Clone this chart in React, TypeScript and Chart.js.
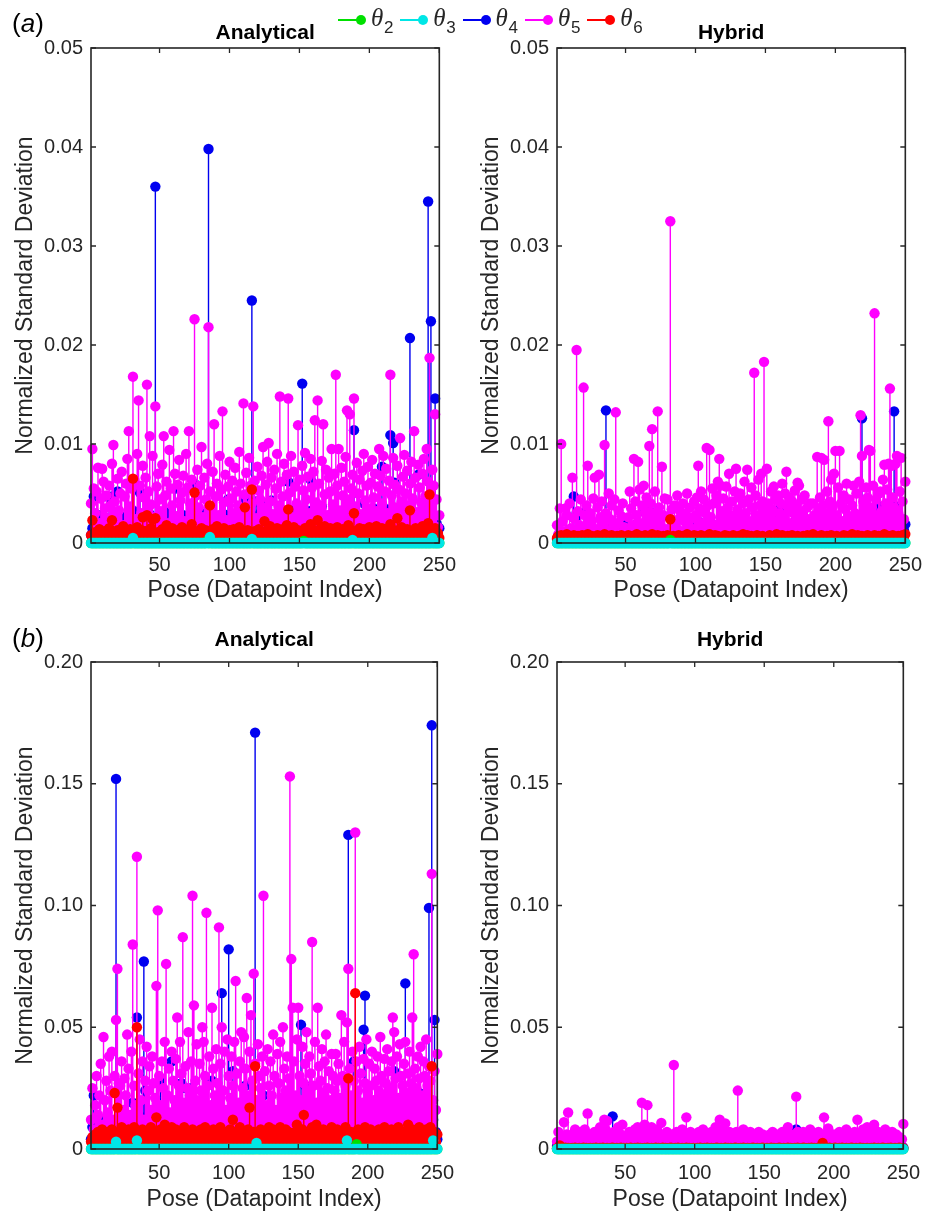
import React, { useEffect, useRef } from "react";
import { Chart, registerables } from "chart.js";

Chart.register(...registerables);
Chart.defaults.font.family = "'Liberation Sans', Arial, Helvetica, sans-serif";

// ---------- axes / labels ----------
const X_TICKS = [50, 100, 150, 200, 250];
const X_MIN = 1;
const X_MAX = 250;
const Y_TICKS_A = [0, 0.01, 0.02, 0.03, 0.04, 0.05];
const Y_TICKS_B = [0, 0.05, 0.1, 0.15, 0.2];
const SERIES_SUBS = ["2", "3", "4", "5", "6"];
const SERIES_COLORS = ["#00e000", "#00e6e6", "#0000f0", "#ff00ff", "#ff0000"];
const DRAW_ORDER = [1, 0, 4, 3, 2];
const X_TITLE = "Pose (Datapoint Index)";
const Y_TITLE = "Normalized Standard Deviation";
const UNIT_A = 1e-4; // panel (a) values are in units of 1e-4
const UNIT_B = 1e-3; // panel (b) values are in units of 1e-3

// ---------- panel (a) Analytical ----------
const A_ANA_T2 = [
  0,0,0,0,0,0,0,0,0,0,0,0,0,0,0,0,0,0,0,0,0,0,0,0,0,
  0,0,0,0,0,0,0,0,0,0,0,0,0,0,0,0,0,0,0,0,0,0,0,0,0,
  0,0,0,0,0,0,0,0,0,0,0,0,0,0,0,0,0,0,0,0,0,0,0,0,0,
  0,0,0,0,0,0,0,0,2,0,0,0,0,0,0,0,0,0,0,0,0,0,0,0,0,
  0,0,0,0,0,0,0,0,0,0,0,0,0,0,0,0,0,0,0,0,0,0,0,0,0,
  0,0,0,0,0,0,0,0,0,0,0,0,0,0,0,0,0,0,0,0,0,0,0,0,0,
  0,0,2,0,0,0,0,0,0,0,0,0,0,0,0,0,0,0,0,0,0,0,0,0,0,
  0,0,0,0,0,0,0,0,0,0,0,0,0,0,0,0,0,0,0,0,0,0,0,0,0,
  0,0,0,0,0,0,0,0,0,0,0,0,0,0,0,0,0,0,0,0,0,0,0,0,0,
  0,0,0,0,0,0,0,0,0,0,0,0,0,0,0,0,0,0,0,0,0,0,0,0,0,
];
const A_ANA_T3 = [
  0,0,0,0,0,0,0,0,0,0,0,0,0,0,0,0,0,0,0,0,0,0,0,0,0,
  0,0,0,0,0,5,0,0,0,0,0,0,0,0,0,0,0,0,0,0,0,0,0,0,0,
  0,0,0,0,0,0,0,0,0,0,0,0,0,0,0,0,0,0,0,0,0,0,0,0,0,
  0,0,0,0,0,0,0,0,0,0,6,0,0,0,0,0,0,0,0,0,0,0,0,0,0,
  0,0,0,0,0,0,0,0,0,0,0,0,0,0,0,4,0,0,0,0,0,0,0,0,0,
  0,0,0,0,0,0,0,0,0,0,0,0,0,0,0,0,0,0,0,0,0,0,0,0,0,
  0,0,0,0,0,0,0,0,0,0,0,0,0,0,0,0,0,0,0,0,0,0,0,0,0,
  0,0,0,0,0,0,0,0,0,0,0,0,3,0,0,0,0,0,0,0,0,0,0,0,0,
  0,0,0,0,0,0,0,0,0,0,0,0,0,0,0,0,0,0,0,0,0,0,0,0,0,
  0,0,0,0,0,0,0,0,0,0,0,0,0,0,0,0,0,0,0,5,0,0,0,0,0,
];
const A_ANA_T4 = [
  8,15,47,10,22,6,12,28,9,18,5,25,11,46,14,47,7,19,30,52,9,16,6,21,13,
  27,8,14,20,10,33,7,17,12,24,51,9,15,6,26,11,18,29,8,13,21,360,10,16,7,
  19,12,25,6,14,9,31,11,17,8,55,13,22,7,16,10,28,12,6,20,15,9,24,11,60,
  14,8,21,12,30,7,17,10,23,398,9,15,26,8,13,19,6,22,11,16,29,7,14,44,10,
  18,9,27,12,20,8,15,33,10,17,45,6,21,13,28,245,11,24,42,9,16,30,7,19,12,
  40,10,25,14,43,8,18,11,27,6,15,22,9,31,13,20,62,7,16,24,10,35,12,18,8,
  21,161,11,26,9,17,32,64,13,19,7,28,15,10,23,37,8,16,25,11,20,6,29,14,18,
  9,24,12,30,7,17,22,10,26,13,19,8,33,114,11,21,15,27,9,18,40,12,23,7,16,
  25,10,35,14,20,8,29,17,77,11,22,13,34,18,109,24,101,61,15,28,9,20,12,31,17,
  10,23,14,207,19,8,26,12,30,69,16,22,9,27,14,18,345,32,224,11,25,146,20,9,15,
];
const A_ANA_T5 = [
  40,95,55,30,52,76,20,45,75,62,35,48,25,58,38,80,99,42,28,65,33,50,72,18,47,
  60,85,113,37,55,168,64,24,90,144,58,30,78,46,66,160,52,108,39,88,26,138,57,70,44,
  32,79,108,48,62,20,94,55,38,113,70,27,59,84,43,51,68,22,90,56,113,40,64,31,226,
  48,74,36,58,97,26,66,44,80,218,52,35,72,120,47,60,28,88,54,133,41,69,23,57,82,
  45,63,30,76,52,38,92,60,27,141,49,71,34,86,58,40,138,63,25,77,53,44,68,97,36,
  59,82,101,42,66,29,74,55,90,38,148,62,47,80,33,69,146,51,88,26,72,57,40,119,64,
  35,78,53,91,44,67,30,85,56,72,124,41,144,60,37,83,120,49,74,28,66,52,95,39,70,
  170,58,95,33,76,48,62,87,134,44,130,55,69,146,37,81,50,64,29,73,90,43,58,77,35,
  61,84,46,70,32,57,95,68,40,88,52,75,30,63,170,48,86,59,36,78,54,106,42,67,89,
  50,73,38,60,82,45,113,66,31,79,56,41,70,85,47,95,62,187,39,74,58,130,44,16,28,
];
const A_ANA_T6 = [
  8,23,6,11,5,9,14,7,10,4,12,8,6,15,9,23,5,11,7,13,8,6,10,17,7,
  12,5,9,14,8,65,6,11,16,9,7,13,26,8,12,28,10,6,15,24,9,25,7,11,5,
  10,14,6,9,18,7,12,5,15,8,11,6,13,9,7,16,10,5,12,8,14,6,19,9,51,
  7,12,5,10,15,8,6,13,9,11,38,7,14,5,10,17,8,6,12,9,15,7,11,5,13,
  9,6,14,8,11,5,16,9,7,12,36,8,13,6,10,54,7,12,9,5,14,8,11,6,22,
  9,13,7,17,10,6,12,8,15,5,11,9,14,7,10,18,34,6,12,8,16,9,5,13,10,
  7,12,9,15,6,11,8,19,10,5,13,7,23,9,14,6,11,17,8,12,5,15,9,7,13,
  10,16,6,12,8,14,9,5,11,18,7,13,9,30,6,12,8,15,10,5,14,7,11,9,16,
  6,13,8,10,17,7,12,5,15,9,11,6,14,8,19,10,7,13,9,25,6,12,16,8,11,
  7,14,9,33,6,12,8,15,10,5,13,9,17,7,11,14,20,49,8,12,6,15,9,10,5,
];

// ---------- panel (a) Hybrid ----------
const A_HYB_T2 = [
  0,0,0,0,0,0,0,0,0,0,0,0,0,0,0,0,0,0,0,0,0,0,0,0,0,
  0,0,0,0,0,0,0,0,0,0,0,0,0,0,0,0,0,0,0,0,0,0,0,0,0,
  0,0,0,0,0,0,0,0,0,0,0,0,0,0,0,0,0,0,0,0,0,0,0,0,0,
  0,0,0,0,0,0,3,0,0,0,0,0,0,0,0,0,0,0,0,0,0,0,0,0,0,
  0,0,0,0,0,0,0,0,0,0,0,0,0,0,0,0,0,0,0,0,0,0,0,0,0,
  0,0,0,0,0,0,0,0,0,0,0,0,0,0,0,0,0,0,0,0,0,0,0,0,0,
  0,0,0,0,0,0,0,0,0,0,0,0,0,0,0,0,0,0,0,0,0,0,0,0,0,
  0,0,0,0,0,0,0,0,0,0,0,0,0,0,0,0,0,0,0,0,0,0,0,0,0,
  0,0,0,0,0,0,0,0,0,0,0,0,0,0,0,0,0,0,0,0,0,0,0,0,0,
  0,0,0,0,0,0,0,0,0,0,0,0,0,0,0,0,0,0,0,0,0,0,0,0,0,
];
const A_HYB_T3 = [
  0,0,0,0,0,0,0,0,0,0,0,0,0,0,0,0,0,0,0,0,0,0,0,0,0,
  0,0,0,0,0,0,0,0,0,0,0,0,0,0,0,0,0,0,0,0,0,0,0,0,0,
  0,0,0,0,0,0,0,0,0,0,0,0,0,0,0,0,0,0,0,0,0,0,0,0,0,
  0,0,0,0,0,0,0,0,0,0,0,0,0,0,0,0,0,0,0,0,0,0,0,0,0,
  0,0,0,0,0,0,0,0,0,0,0,0,0,0,0,0,0,0,0,0,0,0,0,0,0,
  0,0,0,0,0,0,0,0,0,0,0,0,0,0,0,0,0,0,0,0,0,0,0,0,0,
  0,0,0,0,0,0,0,0,0,0,0,0,0,0,0,0,0,0,0,0,0,0,0,0,0,
  0,0,0,0,0,0,0,0,0,0,0,0,0,0,0,0,0,0,0,0,0,0,0,0,0,
  0,0,0,0,0,0,0,0,0,0,0,0,0,0,0,0,0,0,0,0,0,0,0,0,0,
  0,0,0,0,0,0,0,0,0,0,0,0,0,0,0,0,0,0,0,0,0,0,0,0,0,
];
const A_HYB_T4 = [
  4,8,3,10,6,2,9,5,12,4,7,3,47,9,30,28,6,11,4,30,8,13,5,10,3,
  7,12,4,9,6,14,3,8,11,5,134,10,14,6,9,4,12,7,3,10,5,8,13,23,6,
  22,4,9,12,5,8,14,19,6,10,3,11,32,7,9,4,33,12,6,8,3,10,5,13,7,
  4,9,6,11,3,8,12,5,10,4,7,13,6,9,3,11,5,8,14,6,10,4,22,12,18,
  8,15,21,17,9,12,5,14,10,16,7,13,18,6,11,15,18,9,12,22,14,8,16,21,10,
  6,13,9,4,11,7,14,5,10,8,12,3,9,15,6,11,8,13,25,10,7,24,12,5,9,
  14,6,11,24,8,22,13,5,10,34,12,33,7,15,9,4,11,16,6,13,21,8,10,5,12,
  7,14,9,4,11,6,13,8,16,5,10,12,7,9,15,4,11,6,13,8,10,14,25,7,12,
  5,9,14,8,11,4,13,7,10,15,25,24,9,6,12,8,14,10,126,27,11,6,13,9,16,
  8,12,5,14,10,37,9,36,13,7,15,11,30,28,12,17,133,37,36,14,9,16,11,13,19,
];
const A_HYB_T5 = [
  18,9,35,100,22,12,35,28,8,40,15,66,25,10,195,32,18,44,12,157,28,38,78,16,30,
  22,45,66,14,36,69,26,42,18,99,30,12,50,24,38,15,44,132,20,33,10,27,40,16,8,
  12,26,52,35,18,85,42,28,82,54,20,38,58,32,46,24,98,40,115,30,52,22,133,36,18,
  77,28,45,14,44,26,325,34,20,38,16,48,24,32,12,40,22,30,50,18,36,25,14,42,28,
  46,78,35,52,20,44,30,96,38,94,26,55,40,18,48,62,85,58,32,45,24,57,36,70,28,
  42,20,52,75,34,46,50,26,40,62,30,74,44,22,56,36,172,48,28,64,38,70,42,183,32,
  75,40,26,52,34,57,44,22,48,30,40,60,28,50,72,36,46,20,42,30,53,38,61,58,26,
  44,32,48,18,36,24,40,14,40,28,20,87,34,46,86,38,84,30,52,123,42,64,36,70,93,
  28,56,93,40,22,48,34,60,26,44,18,38,58,30,50,24,62,129,88,42,34,56,46,94,93,
  36,58,232,44,28,50,52,32,64,79,40,54,80,156,78,46,36,80,88,30,52,86,42,24,62,
];
const A_HYB_T6 = [
  5,7,4,8,3,6,5,9,4,7,3,6,8,5,4,7,6,3,8,5,4,6,9,3,5,
  7,4,6,3,8,5,7,4,6,9,3,5,7,4,8,6,3,5,7,4,6,8,3,5,4,
  6,8,3,5,7,4,6,9,5,3,7,4,6,8,3,5,7,4,9,6,3,5,8,4,6,
  3,7,5,4,8,6,24,5,7,3,6,4,8,5,3,7,4,6,9,5,3,6,4,8,5,
  7,3,5,8,4,6,3,7,5,9,4,6,3,8,5,7,4,6,3,5,8,4,7,3,6,
  5,8,4,6,3,7,5,4,9,6,3,8,5,4,7,3,6,5,8,4,6,3,7,5,4,
  6,3,8,5,4,7,3,9,6,4,5,8,3,6,4,7,5,3,8,6,4,5,7,3,6,
  4,7,5,3,8,6,4,5,9,3,7,4,6,5,8,3,6,4,7,5,3,8,6,4,5,
  7,4,6,3,5,8,4,7,3,6,5,9,4,6,3,8,5,4,7,6,3,5,8,4,6,
  3,6,8,4,5,7,3,6,4,9,5,3,7,6,4,8,5,3,6,7,4,5,8,6,9,
];

// ---------- panel (b) Analytical ----------
const B_ANA_T2 = [
  0,0,0,0,0,0,0,0,0,0,0,0,0,0,0,0,0,0,0,0,0,0,0,0,0,
  0,0,0,0,0,0,0,0,0,0,0,0,0,0,0,0,0,0,0,0,0,0,0,0,0,
  0,0,0,0,0,0,0,0,0,0,0,0,0,0,0,0,0,0,0,0,0,0,0,0,0,
  0,0,0,0,0,0,0,0,0,0,0,0,0,0,0,0,0,0,0,0,0,0,0,0,0,
  0,0,0,0,0,0,0,0,0,0,0,0,0,0,0,0,0,0,0,0,0,0,0,0,0,
  0,0,0,0,0,0,0,0,0,0,0,0,0,0,0,0,0,0,0,0,0,0,0,0,0,
  0,0,0,0,0,0,0,0,0,0,0,0,0,0,0,0,0,0,0,0,0,0,0,0,0,
  0,0,0,0,0,0,0,0,0,0,0,0,0,0,0,0,2,0,0,0,0,0,0,0,0,
  0,0,0,0,0,0,0,0,0,0,0,0,0,0,0,0,0,0,0,0,0,0,0,0,0,
  0,0,0,0,0,0,0,0,0,0,0,0,0,0,0,0,0,0,0,0,0,0,0,0,0,
];
const B_ANA_T3 = [
  0,0,0,0,0,0,0,0,0,0,0,0,0,0,0,0,0,0,3,0,0,0,0,0,0,
  0,0,0,0,0,0,0,0,3.5,0,0,0,0,0,0,0,0,0,0,0,0,0,0,0,0,
  0,0,0,0,0,0,0,0,0,0,0,0,0,0,0,0,0,0,0,0,0,0,0,0,0,
  0,0,0,0,0,0,0,0,0,0,0,0,0,0,0,0,0,0,0,0,0,0,0,0,0,
  0,0,0,0,0,0,0,0,0,0,0,0,0,0,0,0,0,0,0,2.5,0,0,0,0,0,
  0,0,0,0,0,0,0,0,0,0,0,0,0,0,0,0,0,0,0,0,0,0,0,0,0,
  0,0,0,0,0,0,0,0,0,0,0,0,0,0,0,0,0,0,0,0,0,0,0,0,0,
  0,0,0,0,0,0,0,0,0,3.5,0,0,0,0,0,0,0,0,0,0,0,0,0,0,0,
  0,0,0,0,0,0,0,0,0,0,0,0,0,0,0,0,0,0,0,0,0,0,0,0,0,
  0,0,0,0,0,0,0,0,0,0,0,0,0,0,0,0,0,0,0,0,0,3.5,0,0,0,
];
const B_ANA_T4 = [
  4,9,22,6,3,11,5,8,2,7,12,4,9,6,3,10,5,8,152,6,4,11,7,3,9,
  5,12,4,8,6,19,3,10,54,7,5,9,13,77,24,6,4,11,8,3,14,6,9,5,12,
  28,7,4,10,6,15,3,8,36,5,11,7,4,13,9,27,6,10,25,4,8,12,25,5,9,
  6,11,3,8,14,5,9,7,4,15,10,6,28,8,3,12,5,9,7,64,4,11,6,13,82,
  5,9,32,7,4,12,6,10,3,18,8,26,5,11,7,4,13,9,171,6,10,5,14,8,22,
  7,4,11,6,9,15,5,8,3,12,7,10,4,9,6,13,21,5,8,11,4,14,7,9,5,
  10,51,6,18,26,8,4,12,7,9,5,14,13,6,10,4,8,11,5,15,7,3,9,12,6,
  8,4,11,6,14,5,9,7,12,4,129,8,10,6,36,5,9,13,4,7,11,49,63,6,9,
  5,12,7,4,10,15,6,9,3,11,8,5,13,7,11,4,24,9,32,6,10,14,5,8,12,
  6,68,4,9,11,5,14,7,10,4,13,23,6,9,22,5,11,8,99,6,174,12,53,7,4,
];
const B_ANA_T5 = [
  12,25,8,18,30,14,22,35,10,46,20,28,15,38,24,40,12,30,53,74,27,26,36,16,29,
  22,47,33,14,40,84,26,18,120,31,45,20,36,12,28,42,24,34,16,38,27,21,67,98,30,
  18,36,25,44,76,22,33,15,40,28,20,37,54,26,44,31,87,19,34,25,48,22,36,104,59,
  28,43,20,35,24,50,44,30,97,26,38,18,58,33,22,41,27,91,35,50,24,40,16,45,30,
  21,38,26,44,69,31,19,36,48,25,46,33,62,22,40,55,28,72,35,20,43,30,25,38,104,
  32,18,41,26,36,22,47,30,16,39,27,44,21,50,33,24,38,29,153,78,58,36,22,45,58,
  30,20,42,27,35,48,24,38,31,85,26,44,19,58,34,28,41,23,36,47,25,32,20,39,30,
  24,39,28,35,21,55,30,44,26,52,74,33,22,40,28,130,36,24,42,31,19,37,27,45,23,
  35,26,40,20,33,28,38,24,46,30,22,37,27,41,32,25,36,54,48,29,38,21,43,30,26,
  35,44,23,31,40,27,54,80,33,25,38,29,42,22,36,30,45,26,34,28,113,20,32,16,39,
];
const B_ANA_T6 = [
  3,5,2,6,4,7,3,5,8,4,6,3,7,5,4,8,6,23,5,17,7,4,9,6,3,
  7,5,8,4,6,3,9,5,50,7,4,6,8,3,5,7,4,6,9,5,3,7,13,6,4,
  8,5,3,10,6,4,7,5,9,3,6,8,4,5,7,3,6,9,4,5,7,3,6,8,5,
  4,7,5,3,8,6,4,9,5,7,3,6,4,8,5,7,3,6,9,4,5,7,3,6,4,
  8,5,12,4,7,3,6,9,5,4,7,6,3,8,17,5,4,7,34,6,3,5,8,4,6,
  7,3,5,9,4,6,8,3,5,7,4,9,6,3,5,8,4,7,6,3,5,4,7,10,5,
  3,6,8,14,5,4,7,3,6,9,5,4,10,6,3,7,5,8,4,6,3,7,5,9,4,
  6,3,8,5,4,7,6,3,9,5,29,4,7,6,3,64,5,8,4,6,3,7,9,5,4,
  6,8,3,5,7,4,6,8,5,3,7,9,4,6,5,3,8,6,4,7,5,9,3,6,4,
  7,5,3,10,6,4,8,5,7,3,6,9,4,5,7,3,8,6,4,9,34,5,7,3,6,
];

// ---------- panel (b) Hybrid ----------
const B_HYB_T2 = [
  0,0,0,0,0,0,0,0,0,0,0,0,0,0,0,0,0,0,0,0,0,0,0,0,0,
  0,0,0,0,0,0,0,0,0,0,0,0,0,0,0,0,0,0,0,0,0,0,0,0,0,
  0,0,0,0,0,0,0,0,0,0,0,0,0,0,0,0,0,0,0,0,0,0,0,0,0,
  0,0,0,0,0,0,0,0,0,0,0,0,0,0,0,0,0,0,0,0,0,0,0,0,0,
  0,0,0,0,0,0,0,0,0,0,0,0,0,0,0,0,0,0,0,0,0,0,0,0,0,
  0,0,0,0,0,0,0,0,0,0,0,0,0,0,0,0,0,0,0,0,0,0,0,0,0,
  0,0,0,0,0,0,0,0,0,0,0,0,0,0,0,0,0,0,0,0,0,0,0,0,0,
  0,0,0,0,0,0,0,0,0,0,0,0,0,0,0,0,0,0,0,0,0,0,0,0,0,
  0,0,0,0,0,0,0,0,0,0,0,0,0,0,0,0,0,0,0,0,0,0,0,0,0,
  0,0,0,0,0,0,0,0,0,0,0,0,0,0,0,0,0,0,0,0,0,0,0,0,0,
];
const B_HYB_T3 = [
  0,0,0,0,0,0,0,0,0,0,0,0,0,0,0,0,0,0,0,0,0,0,0,0,0,
  0,0,0,0,0,0,0,0,0,0,0,0,0,0,0,0,0,0,0,0,0,0,0,0,0,
  0,0,0,0,0,0,0,0,0,0,0,0,0,0,0,0,0,0,0,0,0,0,0,0,0,
  0,0,0,0,0,0,0,0,0,0,0,0,0,0,0,0,0,0,0,0,0,0,0,0,0,
  0,0,0,0,0,0,0,0,0,0,0,0,0,0,0,0,0,0,0,0,0,0,0,0,0,
  0,0,0,0,0,0,0,0,0,0,0,0,0,0,0,0,0,0,0,0,0,0,0,0,0,
  0,0,0,0,0,0,0,0,0,0,0,0,0,0,0,0,0,0,0,0,0,0,0,0,0,
  0,0,0,0,0,0,0,0,0,0,0,0,0,0,0,0,0,0,0,0,0,0,0,0,0,
  0,0,0,0,0,0,0,0,0,0,0,0,0,0,0,0,0,0,0,0,0,0,0,0,0,
  0,0,0,0,0,0,0,0,0,0,0,0,0,0,0,0,0,0,0,0,0,0,0,0,0,
];
const B_HYB_T4 = [
  1.2,0.5,0.9,1.8,0.4,1.1,0.7,1.5,0.3,1,0.6,1.4,0.8,0.4,1.2,0.6,1.9,0.5,1,0.7,1.3,0.4,0.9,1.6,0.5,
  1.1,0.6,1.4,0.3,0.9,1.7,0.5,1.2,0.8,0.4,1.5,0.7,1,0.5,1.3,13.4,4.9,0.8,1.4,0.4,1.1,0.6,1.7,0.9,0.5,
  1.2,4,0.7,1.5,0.4,1,0.6,1.8,0.5,1.2,0.8,0.4,1.6,0.7,1.1,0.5,1.4,0.9,0.3,1.3,0.6,1,1.9,0.5,1.2,
  0.7,1.5,0.4,1,0.6,1.8,0.5,1.1,0.8,1.4,0.4,1.2,0.7,0.5,1.6,0.9,0.4,1.3,0.6,1,0.5,1.5,0.8,1.2,0.4,
  1.7,0.6,1,0.5,1.4,0.8,0.3,1.2,0.7,2.2,0.5,1.1,3.8,0.6,1.3,0.4,2.5,0.9,1.5,2.8,0.7,5,1,0.5,1.6,
  0.8,1.2,0.4,1.9,0.6,1.1,0.5,2,0.9,0.4,1.4,0.7,1,0.5,1.7,0.8,0.4,1.3,0.6,1.1,0.5,1.8,0.9,0.4,1.2,
  0.7,1.5,0.4,1,5,0.6,1.3,0.8,0.4,1.6,0.7,1.1,0.5,1.4,0.9,0.3,1.2,0.6,2.3,0.5,1,1.8,8,2,0.6,
  1.3,0.5,1,0.8,1.6,0.4,1.2,0.7,1.4,0.5,1.1,0.6,1.9,0.4,1,0.8,1.5,0.5,1.2,0.7,0.4,1.3,0.9,0.5,1.1,
  0.6,1.4,0.4,1,0.8,1.7,0.5,1.2,0.7,0.4,1.5,0.9,0.5,1.1,0.6,1.8,0.4,2.6,0.8,1.2,0.5,1,0.7,1.4,0.4,
  1.1,0.6,1.6,0.5,1.3,0.8,0.4,1,1.7,0.6,1.2,0.4,0.9,1.5,0.5,1.1,0.7,1.3,3.2,0.6,5,2,0.8,1.2,0.5,
];
const B_HYB_T5 = [
  3,7,2,5,4,11,3,6,15,4,2,6,3,8,5,2,4,7,3,5,8,4,14.6,3,6,
  2,5,7,3,4,6,9,2,5,12,8,11.5,4,6,3,5,7,2,4,9,3,6,10,4,2,
  5,3,7,4,6,2,8,5,9,3,7,19,6,10,4,18,8,5,9,3,6,4,8,2,5,
  10.7,4,6,3,7,5,2,6,4,34.5,5,7,3,6,4,8,5,3,13,6,4,7,2,5,3,
  6,4,7,3,5,8,2,6,4,5,3,7,4,6,9,3,5,12,4,8,6,10.5,3,5,7,
  4,6,2,5,7,24,4,6,3,8,5,2,6,4,7,3,5,6,2,4,7,3,5,6,4,
  3,5,2,6,4,7,3,5,2,6,4,3,7,5,2,4,9,3,6,4,2,5,21.5,7,3,
  5,4,7,2,6,3,5,8,4,6,2,5,3,7,4,6,5,13,3,6,8.4,4,5,2,6,
  3,5,4,7,2,6,3,5,8,4,2,6,5,3,7,4,12,5,3,6,8,4,7,9,5,
  3,6,8,10,4,5,7,3,6,4,5,8,3,6,2,5,7,4,3,6,4,5,2,4,10.3,
];
const B_HYB_T6 = [
  0.3,0.2,1.5,0.4,0.2,0.3,0.5,0.2,0.4,0.3,0.2,0.4,0.3,0.5,0.2,0.3,0.4,0.2,0.3,0.5,0.2,0.4,0.3,0.2,0.4,
  0.2,0.4,0.3,0.5,0.2,0.3,0.4,0.2,0.5,0.3,0.2,0.4,0.3,0.2,0.4,0.5,0.3,0.2,0.4,0.3,0.2,0.5,0.3,0.4,0.2,
  0.4,0.3,0.2,0.5,0.3,0.2,0.4,0.3,0.5,0.2,0.4,0.3,0.2,0.4,0.3,0.5,0.2,0.3,0.4,0.2,0.3,0.5,0.2,0.4,0.3,
  0.3,0.5,0.2,0.4,0.3,0.2,0.4,0.5,0.3,0.2,0.4,0.3,0.5,0.2,0.3,0.4,0.2,0.3,0.5,0.2,0.4,0.3,0.2,0.4,0.3,
  0.2,0.4,0.3,0.5,0.2,0.3,0.4,0.2,0.5,0.3,0.2,0.4,0.3,0.2,0.4,0.5,0.3,0.2,0.4,0.3,0.2,0.5,0.3,0.4,0.2,
  0.4,0.2,0.3,0.5,0.4,0.2,0.3,0.4,0.2,0.5,0.3,0.2,0.4,0.3,0.2,0.4,0.5,0.3,0.2,0.4,0.3,0.2,0.4,0.5,0.3,
  0.3,0.4,0.2,0.3,0.5,0.2,0.4,0.3,0.2,0.4,0.5,0.3,0.2,0.4,0.3,0.2,0.5,0.3,0.4,0.2,0.3,0.4,0.2,0.5,0.3,
  0.2,0.3,0.5,0.4,0.2,0.3,0.4,0.2,0.5,0.3,0.4,0.2,0.3,0.5,0.2,0.4,2.5,0.3,0.2,0.4,0.3,0.5,0.2,0.3,0.4,
  0.5,0.2,0.3,0.4,0.2,0.5,0.3,0.2,0.4,0.3,0.2,0.4,0.5,0.3,0.2,0.4,0.3,0.2,0.5,0.3,0.4,0.2,0.3,0.4,0.2,
  0.3,0.4,0.2,0.5,0.3,0.2,0.4,0.3,0.2,0.5,0.4,0.3,0.2,0.4,0.3,0.5,0.2,0.3,0.4,0.2,0.3,0.5,0.4,0.2,0.3,
];

// ---------- layout of the four panels ----------
const PANELS = [
  { key: "aL", left: 0, top: 0, w: 466, h: 610, title: "Analytical", series: [A_ANA_T2, A_ANA_T3, A_ANA_T4, A_ANA_T5, A_ANA_T6], unit: UNIT_A, yMax: 0.05, yTicks: Y_TICKS_A, padRight: 20, titlePadTop: 21, titlePadBottom: 1.8, xHeight: 67, xTickPad: 10, xTitlePadBottom: 5.5 },
  { key: "aR", left: 466, top: 0, w: 466, h: 610, title: "Hybrid", series: [A_HYB_T2, A_HYB_T3, A_HYB_T4, A_HYB_T5, A_HYB_T6], unit: UNIT_A, yMax: 0.05, yTicks: Y_TICKS_A, padRight: 21, titlePadTop: 21, titlePadBottom: 1.8, xHeight: 67, xTickPad: 10, xTitlePadBottom: 5.5 },
  { key: "bL", left: 0, top: 600, w: 466, h: 614, title: "Analytical", series: [B_ANA_T2, B_ANA_T3, B_ANA_T4, B_ANA_T5, B_ANA_T6], unit: UNIT_B, yMax: 0.2, yTicks: Y_TICKS_B, padRight: 20, titlePadTop: 27.4, titlePadBottom: 9.4, xHeight: 65, xTickPad: 12, xTitlePadBottom: 0.2 },
  { key: "bR", left: 466, top: 600, w: 466, h: 614, title: "Hybrid", series: [B_HYB_T2, B_HYB_T3, B_HYB_T4, B_HYB_T5, B_HYB_T6], unit: UNIT_B, yMax: 0.2, yTicks: Y_TICKS_B, padRight: 21, titlePadTop: 27.4, titlePadBottom: 9.4, xHeight: 65, xTickPad: 12, xTitlePadBottom: 0.2 },
];

const AXIS_COLOR = "#262626";

const stemPlugin = {
  id: "stems",
  beforeDatasetDraw(chart: any, args: any) {
    const { ctx, scales } = chart;
    const y0 = scales.y.getPixelForValue(0);
    const ds = chart.data.datasets[args.index];
    ctx.save();
    ctx.strokeStyle = ds.borderColor;
    ctx.lineWidth = 1.4;
    ctx.beginPath();
    args.meta.data.forEach((pt: any) => {
      ctx.moveTo(pt.x, y0);
      ctx.lineTo(pt.x, pt.y);
    });
    ctx.stroke();
    ctx.restore();
  },
};

const framePlugin = {
  id: "frame",
  afterDatasetsDraw(chart: any) {
    const { ctx, chartArea: a, scales } = chart;
    ctx.save();
    ctx.strokeStyle = AXIS_COLOR;
    ctx.lineWidth = 1.6;
    ctx.strokeRect(a.left, a.top, a.right - a.left, a.bottom - a.top);
    ctx.lineWidth = 1.3;
    const tl = 5;
    ctx.beginPath();
    scales.x.ticks.forEach((t: any) => {
      const px = scales.x.getPixelForValue(t.value);
      ctx.moveTo(px, a.bottom);
      ctx.lineTo(px, a.bottom - tl);
      ctx.moveTo(px, a.top);
      ctx.lineTo(px, a.top + tl);
    });
    scales.y.ticks.forEach((t: any) => {
      const py = scales.y.getPixelForValue(t.value);
      ctx.moveTo(a.left, py);
      ctx.lineTo(a.left + tl, py);
      ctx.moveTo(a.right, py);
      ctx.lineTo(a.right - tl, py);
    });
    ctx.stroke();
    ctx.restore();
  },
};

function buildConfig(p: any): any {
  const datasets = p.series.map((vals: number[], k: number) => ({
    label: "θ" + SERIES_SUBS[k],
    data: vals.map((v, i) => ({ x: i + 1, y: v * p.unit })),
    backgroundColor: SERIES_COLORS[k],
    borderColor: SERIES_COLORS[k],
    pointRadius: 5.2,
    pointHoverRadius: 5.2,
    pointBorderWidth: 0,
    showLine: false,
    clip: false,
    order: DRAW_ORDER[k],
  }));
  return {
    type: "scatter",
    data: { datasets },
    plugins: [stemPlugin, framePlugin],
    options: {
      animation: false,
      responsive: false,
      maintainAspectRatio: false,
      events: [],
      layout: { padding: { left: 0, right: p.padRight, top: 0, bottom: 0 } },
      plugins: {
        legend: { display: false },
        tooltip: { enabled: false },
        title: {
          display: true,
          text: p.title,
          fullSize: false,
          color: "#000",
          font: { size: 21, weight: "bold" },
          padding: { top: p.titlePadTop, bottom: p.titlePadBottom },
        },
      },
      scales: {
        x: {
          type: "linear",
          min: X_MIN,
          max: X_MAX,
          grid: { display: false, drawTicks: false },
          border: { display: false },
          afterBuildTicks: (s: any) => {
            s.ticks = X_TICKS.map((v) => ({ value: v }));
          },
          afterFit: (s: any) => {
            s.height = p.xHeight;
          },
          ticks: {
            padding: p.xTickPad,
            color: AXIS_COLOR,
            font: { size: 20 },
            maxRotation: 0,
            autoSkip: false,
            callback: (v: any) => String(v),
          },
          title: {
            display: true,
            text: X_TITLE,
            color: AXIS_COLOR,
            font: { size: 23 },
            padding: { top: 0, bottom: p.xTitlePadBottom },
          },
        },
        y: {
          type: "linear",
          min: 0,
          max: p.yMax,
          grid: { display: false, drawTicks: false },
          border: { display: false },
          afterBuildTicks: (s: any) => {
            s.ticks = p.yTicks.map((v: number) => ({ value: v }));
          },
          afterFit: (s: any) => {
            s.width = 91;
          },
          ticks: {
            padding: 8,
            color: AXIS_COLOR,
            font: { size: 20 },
            callback: (v: any) => (Number(v) === 0 ? "0" : Number(v).toFixed(2)),
          },
          title: {
            display: true,
            text: Y_TITLE,
            color: AXIS_COLOR,
            font: { size: 23 },
            padding: { top: 11.7, bottom: 0 },
          },
        },
      },
    },
  };
}

function Panel({ p }: { p: any }) {
  const ref = useRef<HTMLCanvasElement>(null);
  useEffect(() => {
    if (!ref.current) return;
    const chart = new Chart(ref.current, buildConfig(p));
    return () => chart.destroy();
  }, [p]);
  return (
    <canvas
      ref={ref}
      width={p.w}
      height={p.h}
      style={{ position: "absolute", left: p.left, top: p.top, width: p.w, height: p.h }}
    />
  );
}

function Legend() {
  return (
    <>
      {SERIES_SUBS.map((s, i) => {
        const x = 338 + i * 62.3;
        const c = SERIES_COLORS[i];
        return (
          <div key={s} style={{ position: "absolute", left: x, top: 0, width: 62, height: 40 }}>
            <div style={{ position: "absolute", left: 0, top: 19.2, width: 23, height: 1.6, background: c }} />
            <div style={{ position: "absolute", left: 18, top: 15, width: 10, height: 10, borderRadius: "50%", background: c }} />
            <span
              style={{
                position: "absolute",
                left: 33,
                top: 5.4,
                fontFamily: "'Liberation Serif', 'DejaVu Serif', serif",
                fontStyle: "italic",
                fontSize: 25,
                lineHeight: "25px",
                color: "#262626",
                whiteSpace: "nowrap",
              }}
            >
              θ
            </span>
            <span
              style={{
                position: "absolute",
                left: 46,
                top: 19.1,
                fontFamily: "'Liberation Sans', Arial, sans-serif",
                fontSize: 17,
                lineHeight: "17px",
                color: "#262626",
              }}
            >
              {s}
            </span>
          </div>
        );
      })}
    </>
  );
}

const labelStyle: React.CSSProperties = {
  position: "absolute",
  left: 12,
  fontFamily: "'Liberation Sans', Arial, sans-serif",
  fontSize: 26,
  lineHeight: "26px",
  color: "#000",
  whiteSpace: "nowrap",
};

export default function App() {
  return (
    <div style={{ position: "absolute", left: 0, top: 0, width: 932, height: 1214, background: "#fff", overflow: "hidden" }}>
      {PANELS.map((p) => (
        <Panel key={p.key} p={p} />
      ))}
      <Legend />
      <div style={{ ...labelStyle, top: 9.7 }}>
        (<span style={{ fontStyle: "italic" }}>a</span>)
      </div>
      <div style={{ ...labelStyle, top: 624.5 }}>
        (<span style={{ fontStyle: "italic" }}>b</span>)
      </div>
    </div>
  );
}
